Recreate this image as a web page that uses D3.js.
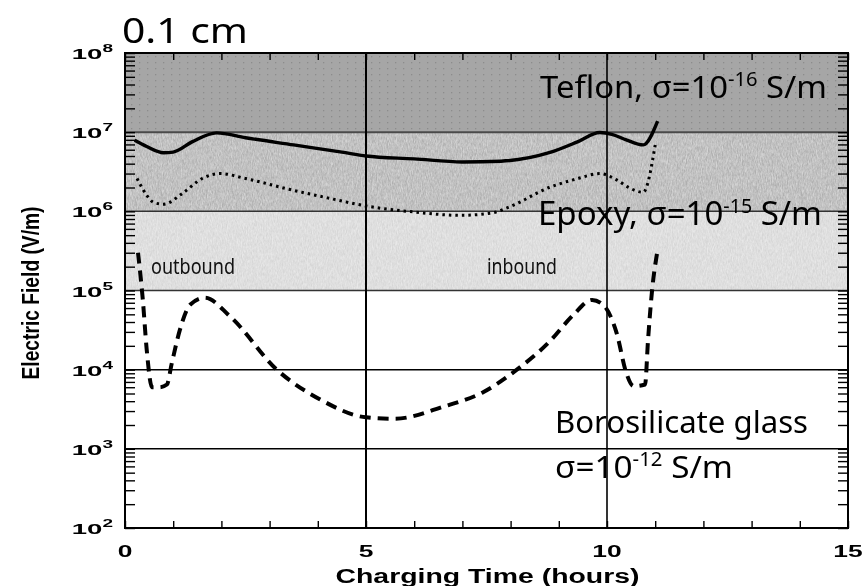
<!DOCTYPE html>
<html>
<head>
<meta charset="utf-8">
<script src="https://cdn.jsdelivr.net/npm/d3@7"></script>
<style>
  body { margin: 0; background: #fff; }
  svg { display: block; }
</style>
</head>
<body>
<svg id="chart" width="865" height="586"></svg>
<script>
// Electric field in a 0.1 cm dielectric layer versus charging time (hours)

// solid trace
const timeSolid  = [0.2, 0.45, 0.8, 1.0, 1.4, 1.9, 2.5, 3.5, 4.5, 5.0, 6.0, 7.0, 7.8, 8.8, 9.4, 9.85, 10.1, 10.4, 10.75, 11.05];
const fieldSolid = [7.9e6, 6.6e6, 5.5e6, 5.6e6, 7.6e6, 9.8e6, 8.5e6, 6.9e6, 5.6e6, 5.0e6, 4.6e6, 4.2e6, 4.3e6, 5.5e6, 7.6e6, 9.9e6, 9.4e6, 8.0e6, 6.9e6, 1.38e7];

// dotted trace
const timeDotted  = [0.25, 0.45, 0.6, 0.8, 1.2, 1.6, 1.97, 2.5, 3.4, 4.2, 5.0, 6.0, 6.95, 7.6, 7.95, 8.8, 9.4, 9.85, 10.2, 10.45, 10.75, 11.0];
const fieldDotted = [2.6e6, 1.6e6, 1.29e6, 1.23e6, 1.7e6, 2.6e6, 3.0e6, 2.6e6, 1.9e6, 1.48e6, 1.17e6, 9.8e5, 8.9e5, 9.5e5, 1.12e6, 2.0e6, 2.6e6, 3.0e6, 2.5e6, 2.0e6, 1.74e6, 6.9e6];

// dashed trace
const timeDashed  = [0.27, 0.37, 0.45, 0.56, 0.72, 0.87, 0.97, 1.14, 1.35, 1.66, 2.18, 3.15, 4.05, 5.0, 5.6, 6.6, 7.43, 8.13, 8.82, 9.3, 9.69, 9.92, 10.2, 10.4, 10.55, 10.79, 10.85, 10.93, 11.04];
const fieldDashed = [3.0e5, 7.6e4, 1.8e4, 6.0e3, 6.0e3, 6.5e3, 1.2e4, 3.2e4, 6.6e4, 8.1e4, 4.7e4, 1.0e4, 4.2e3, 2.5e3, 2.4e3, 3.4e3, 5.2e3, 1.0e4, 2.3e4, 4.9e4, 7.6e4, 6.6e4, 2.9e4, 9.1e3, 6.2e3, 6.5e3, 2.3e4, 9.3e4, 3.0e5];

// material breakdown bands (V/m)
const bandLow  = [1e7, 1e6, 1e5];
const bandHigh = [1e8, 1e7, 1e6];

// axis ticks
const xLabelValues = [0, 5, 10, 15];
const xLabels      = ["0", "5", "10", "15"];
const yDecades     = [1e2, 1e3, 1e4, 1e5, 1e6, 1e7, 1e8];
const yExponents   = ["2", "3", "4", "5", "6", "7", "8"];
const xGrid        = [5, 10];
const yGrid        = [1e3, 1e4, 1e5, 1e6, 1e7];

const svg = d3.select("#chart");
const x = d3.scaleLinear().domain([0, 15]).range([125, 848]);
const y = d3.scaleLog().domain([1e2, 1e8]).range([528, 53]);

const defs = svg.append("defs");

// dot screen used for the top band
const dots = defs.append("pattern")
  .attr("id", "dotScreen").attr("patternUnits", "userSpaceOnUse")
  .attr("width", 8).attr("height", 6);
dots.append("rect").attr("width", 8).attr("height", 6).attr("fill", "#a6a6a6");
dots.append("rect").attr("x", 3).attr("y", 2).attr("width", 1.3).attr("height", 1.3).attr("fill", "#8c8c8c");

// fine streaky grain used for the lower bands
const grain = defs.append("filter")
  .attr("id", "grain").attr("x", 0).attr("y", 0).attr("width", 1).attr("height", 1)
  .attr("color-interpolation-filters", "sRGB");
grain.append("feTurbulence")
  .attr("type", "fractalNoise").attr("baseFrequency", "1.2 0.3")
  .attr("numOctaves", 2).attr("seed", 5).attr("result", "n");
grain.append("feColorMatrix").attr("in", "n").attr("type", "matrix")
  .attr("values", "0.33 0.33 0.33 0 0  0.33 0.33 0.33 0 0  0.33 0.33 0.33 0 0  0 0 0 0 1")
  .attr("result", "g");
const ct = grain.append("feComponentTransfer").attr("in", "g");
["feFuncR", "feFuncG", "feFuncB"].forEach(f =>
  ct.append(f).attr("type", "linear").attr("slope", 3).attr("intercept", -1));

const bandColours = ["url(#dotScreen)", "#c2c2c2", "#dfdfdf"];

// shaded bands
svg.append("g").selectAll("rect")
  .data(bandLow)
  .join("rect")
  .attr("x", x(0))
  .attr("width", x(15) - x(0))
  .attr("y", (d, i) => y(bandHigh[i]))
  .attr("height", (d, i) => y(d) - y(bandHigh[i]))
  .attr("fill", (d, i) => bandColours[i]);

svg.append("g").selectAll("rect")
  .data(bandLow.slice(1))
  .join("rect")
  .attr("x", x(0))
  .attr("width", x(15) - x(0))
  .attr("y", (d, i) => y(bandHigh[i + 1]))
  .attr("height", (d, i) => y(d) - y(bandHigh[i + 1]))
  .attr("fill", "#fff")
  .attr("filter", "url(#grain)")
  .style("mix-blend-mode", "overlay")
  .attr("opacity", 0.3);

// grid lines
svg.append("g").selectAll("line")
  .data(yGrid)
  .join("line")
  .attr("x1", x(0)).attr("x2", x(15))
  .attr("y1", d => y(d)).attr("y2", d => y(d))
  .attr("stroke", d => d === 1e7 ? "#4a4a4a" : d >= 1e5 ? "#333" : "#000")
  .attr("stroke-width", d => d === 1e7 ? 2 : 1.5);

svg.append("g").selectAll("line")
  .data(xGrid)
  .join("line")
  .attr("x1", d => x(d)).attr("x2", d => x(d))
  .attr("y1", y(1e8)).attr("y2", y(1e2))
  .attr("stroke", "#000")
  .attr("stroke-width", d => d === 5 ? 2 : 1.6);

// field traces
const line = d3.line()
  .x(d => x(d[0]))
  .y(d => y(d[1]))
  .curve(d3.curveMonotoneX);

const traces = [
  { t: timeSolid,  e: fieldSolid,  w: 3.4, dash: null },
  { t: timeDotted, e: fieldDotted, w: 3,   dash: "2.5 4" },
  { t: timeDashed, e: fieldDashed, w: 4,   dash: "11 7" }
];

svg.append("g").selectAll("path")
  .data(traces)
  .join("path")
  .attr("d", s => line(d3.zip(s.t, s.e)))
  .attr("fill", "none")
  .attr("stroke", "#000")
  .attr("stroke-width", s => s.w)
  .attr("stroke-dasharray", s => s.dash)
  .attr("stroke-linejoin", "round");

// inward ticks on all four sides
function bare(g) {
  g.select(".domain").remove();
  g.selectAll(".tick line").attr("stroke", "#000").attr("stroke-width", 1.4);
}
svg.append("g").attr("transform", `translate(${x(0)},0)`)
  .call(d3.axisLeft(y).tickSize(-10).tickFormat(() => "")).call(bare);
svg.append("g").attr("transform", `translate(${x(15)},0)`)
  .call(d3.axisRight(y).tickSize(-10).tickFormat(() => "")).call(bare);
svg.append("g").attr("transform", `translate(0,${y(1e2)})`)
  .call(d3.axisBottom(x).ticks(15).tickSize(-7).tickFormat(() => "")).call(bare);
svg.append("g").attr("transform", `translate(0,${y(1e8)})`)
  .call(d3.axisTop(x).ticks(15).tickSize(-7).tickFormat(() => "")).call(bare);

// plot frame
svg.append("rect")
  .attr("x", x(0)).attr("y", y(1e8))
  .attr("width", x(15) - x(0)).attr("height", y(1e2) - y(1e8))
  .attr("fill", "none").attr("stroke", "#000").attr("stroke-width", 2);

// y tick labels: 10 with exponent
const yl = svg.append("g").selectAll("text")
  .data(yDecades)
  .join("text")
  .attr("transform", d => `translate(113,${y(d) + 6}) scale(1.9,1)`)
  .attr("text-anchor", "end")
  .style("font-family", "'Liberation Sans', Arial, sans-serif")
  .style("font-weight", "bold")
  .style("font-size", "14.5px")
  .attr("fill", "#000");
yl.append("tspan").text("10");
yl.append("tspan").attr("dy", -7).style("font-size", "10px").text((d, i) => yExponents[i]);

// x tick labels
svg.append("g").selectAll("text")
  .data(xLabelValues)
  .join("text")
  .attr("transform", d => `translate(${x(d)},557) scale(1.6,1)`)
  .attr("text-anchor", "middle")
  .style("font-family", "'Liberation Sans', Arial, sans-serif")
  .style("font-weight", "bold")
  .style("font-size", "16.5px")
  .attr("fill", "#000")
  .text((d, i) => xLabels[i]);

// axis titles
svg.append("text")
  .attr("x", (x(0) + x(15)) / 2 + 1).attr("y", 583)
  .attr("text-anchor", "middle")
  .attr("textLength", 304).attr("lengthAdjust", "spacingAndGlyphs")
  .style("font-family", "'Liberation Sans', Arial, sans-serif")
  .style("font-weight", "bold").style("font-size", "20px")
  .text("Charging Time (hours)");

svg.append("text")
  .attr("transform", "translate(39,293) rotate(-90)")
  .attr("text-anchor", "middle")
  .attr("textLength", 173).attr("lengthAdjust", "spacingAndGlyphs")
  .style("font-family", "'Liberation Sans', Arial, sans-serif")
  .style("font-weight", "bold").style("font-size", "24px")
  .text("Electric Field (V/m)");

// annotations
const sans = "'Noto Sans', 'Open Sans', sans-serif";

svg.append("text")
  .attr("x", 122).attr("y", 43)
  .attr("textLength", 126).attr("lengthAdjust", "spacingAndGlyphs")
  .style("font-family", sans).style("font-size", "35px").attr("fill", "#000")
  .text("0.1 cm");

function material(xPos, yPos, len, size, head, exp) {
  const t = svg.append("text")
    .attr("x", xPos).attr("y", yPos)
    .attr("textLength", len).attr("lengthAdjust", "spacingAndGlyphs")
    .style("font-family", sans).style("font-size", size + "px").attr("fill", "#000");
  t.append("tspan").text(head);
  t.append("tspan").attr("dy", -12).style("font-size", "19px").text(exp);
  t.append("tspan").attr("dy", 12).text(" S/m");
}
material(540, 98, 287, 31, "Teflon, σ=10", "-16");
material(538, 225, 284, 32, "Epoxy, σ=10", "-15");
material(555, 478, 178, 31, "σ=10", "-12");

svg.append("text")
  .attr("x", 555).attr("y", 433)
  .attr("textLength", 253).attr("lengthAdjust", "spacingAndGlyphs")
  .style("font-family", sans).style("font-size", "31px").attr("fill", "#000")
  .text("Borosilicate glass");

svg.append("text")
  .attr("x", 151).attr("y", 274)
  .attr("textLength", 84).attr("lengthAdjust", "spacingAndGlyphs")
  .style("font-family", sans).style("font-size", "21px").attr("fill", "#111")
  .text("outbound");

svg.append("text")
  .attr("x", 487).attr("y", 274)
  .attr("textLength", 70).attr("lengthAdjust", "spacingAndGlyphs")
  .style("font-family", sans).style("font-size", "21px").attr("fill", "#111")
  .text("inbound");
</script>
</body>
</html>
